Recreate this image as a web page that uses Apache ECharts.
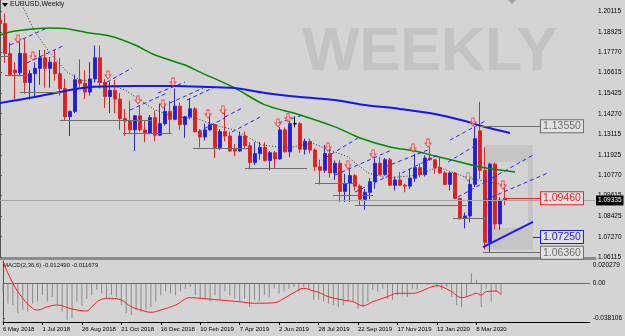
<!DOCTYPE html>
<html>
<head>
<meta charset="utf-8">
<script src="https://cdn.jsdelivr.net/npm/echarts@6/dist/echarts.min.js"></script>
<style>
html, body { margin: 0; padding: 0; background: #d4d4d4; }
#chart { width: 625px; height: 336px; }
</style>
</head>
<body>
<div id="chart"></div>
<script>
// weekly bars, week 0 = 6 May 2018 ; [open, high, low, close]
const candles = [
  [1.1960,1.1996,1.1823,1.1940],[1.1940,1.1997,1.1716,1.1770],[1.1770,1.1833,1.1645,1.1650],[1.1675,1.1720,1.1510,1.1660],
  [1.1660,1.1840,1.1640,1.1770],[1.1770,1.1852,1.1540,1.1605],[1.1605,1.1675,1.1508,1.1655],[1.1655,1.1720,1.1527,1.1685],
  [1.1685,1.1790,1.1591,1.1745],[1.1745,1.1790,1.1575,1.1685],[1.1685,1.1750,1.1575,1.1720],[1.1720,1.1790,1.1615,1.1655],
  [1.1655,1.1745,1.1530,1.1570],[1.1570,1.1625,1.1390,1.1410],[1.1410,1.1445,1.1300,1.1440],[1.1440,1.1650,1.1430,1.1620],
  [1.1620,1.1735,1.1575,1.1600],[1.1600,1.1675,1.1510,1.1550],[1.1550,1.1720,1.1530,1.1625],[1.1625,1.1815,1.1605,1.1745],
  [1.1745,1.1815,1.1570,1.1605],[1.1605,1.1625,1.1460,1.1525],[1.1525,1.1610,1.1430,1.1560],[1.1560,1.1620,1.1430,1.1510],
  [1.1510,1.1545,1.1335,1.1400],[1.1400,1.1455,1.1300,1.1385],[1.1385,1.1500,1.1310,1.1335],[1.1335,1.1420,1.1215,1.1415],
  [1.1415,1.1470,1.1325,1.1335],[1.1335,1.1390,1.1265,1.1315],[1.1315,1.1420,1.1310,1.1405],[1.1405,1.1445,1.1270,1.1305],
  [1.1305,1.1485,1.1300,1.1370],[1.1370,1.1485,1.1360,1.1440],[1.1440,1.1500,1.1310,1.1395],[1.1395,1.1570,1.1390,1.1470],
  [1.1470,1.1490,1.1335,1.1365],[1.1365,1.1415,1.1290,1.1410],[1.1410,1.1515,1.1395,1.1455],[1.1455,1.1465,1.1320,1.1325],
  [1.1325,1.1340,1.1235,1.1295],[1.1295,1.1370,1.1275,1.1335],[1.1335,1.1420,1.1330,1.1365],[1.1365,1.1370,1.1175,1.1235],
  [1.1235,1.1340,1.1220,1.1325],[1.1325,1.1450,1.1270,1.1300],[1.1300,1.1325,1.1210,1.1215],[1.1225,1.1255,1.1185,1.1215],
  [1.1215,1.1325,1.1210,1.1300],[1.1300,1.1325,1.1225,1.1245],[1.1245,1.1265,1.1110,1.1150],[1.1150,1.1265,1.1135,1.1200],
  [1.1200,1.1265,1.1165,1.1235],[1.1235,1.1265,1.1155,1.1160],[1.1160,1.1215,1.1105,1.1205],[1.1205,1.1215,1.1115,1.1170],
  [1.1170,1.1350,1.1165,1.1335],[1.1335,1.1348,1.1205,1.1210],[1.1210,1.1385,1.1180,1.1370],[1.1370,1.1412,1.1350,1.1370],
  [1.1370,1.1380,1.1205,1.1225],[1.1225,1.1285,1.1195,1.1270],[1.1270,1.1285,1.1200,1.1220],[1.1220,1.1230,1.1100,1.1125],
  [1.1125,1.1165,1.1025,1.1105],[1.1105,1.1250,1.1090,1.1200],[1.1200,1.1230,1.1065,1.1090],[1.1090,1.1160,1.1050,1.1145],
  [1.1145,1.1165,1.0925,1.0985],[1.0985,1.1085,1.0925,1.1030],[1.1030,1.1110,1.0925,1.1075],[1.1075,1.1085,1.0990,1.1015],
  [1.1015,1.1025,1.0905,1.0940],[1.0940,1.0998,1.0880,1.0980],[1.0980,1.1060,1.0940,1.1040],[1.1040,1.1172,1.1000,1.1145],
  [1.1145,1.1180,1.1075,1.1080],[1.1080,1.1175,1.1075,1.1165],[1.1165,1.1175,1.1015,1.1020],[1.1020,1.1070,1.0990,1.1050],
  [1.1050,1.1095,1.1015,1.1020],[1.1020,1.1030,1.0980,1.1015],[1.1015,1.1115,1.1000,1.1060],[1.1060,1.1200,1.1040,1.1120],
  [1.1120,1.1145,1.1065,1.1080],[1.1080,1.1190,1.1070,1.1175],[1.1175,1.1240,1.1160,1.1165],[1.1165,1.1170,1.1085,1.1120],
  [1.1120,1.1175,1.1085,1.1090],[1.1090,1.1100,1.1020,1.1025],[1.1025,1.1095,1.0990,1.1090],[1.1090,1.1095,1.0940,1.0945],
  [1.0945,1.0950,1.0825,1.0830],[1.0830,1.0865,1.0775,1.0845],[1.0845,1.1055,1.0810,1.1025],[1.1025,1.1355,1.1010,1.1285],
  [1.1330,1.1495,1.1055,1.1105],[1.1105,1.1236,1.0655,1.0695],[1.0695,1.1147,1.0636,1.1140],[1.1140,1.1148,1.0770,1.0800],
  [1.0800,1.0952,1.0767,1.0935],[1.0946,1.1011,1.0907,1.0934]
];

// moving averages, [week, price]
const greenMA = [[0,1.1875],[3,1.1897],[10,1.1915],[13,1.1912],[18,1.1886],[22,1.1869],[27,1.1818],[31,1.1761],
  [37,1.1704],[40,1.1664],[47,1.1573],[53,1.1477],[60,1.1420],[67,1.1352],[72,1.1289],[78,1.1238],[83,1.1215],
  [87,1.1186],[92,1.1152],[96,1.1124],[103,1.1095]];
const blueMA = [[0,1.1488],[7,1.1522],[12,1.1551],[18,1.1579],[27,1.1585],[35,1.1585],[42,1.1579],[47,1.1573],
  [53,1.1545],[60,1.1522],[67,1.1505],[73,1.1477],[80,1.1454],[87,1.1425],[93,1.1385],[97,1.1351],[102,1.1317]];

// drawn objects: [fromWeek, fromPrice, toWeek, toPrice]
const channels = [
  [2,1.1818,9.4,1.1915],[5.4,1.1716,13,1.1818],[21.4,1.1607,26.4,1.1687],[26,1.1448,33.4,1.1545],
  [31.6,1.1545,37,1.1607],[34,1.1488,40.6,1.1573],[37.4,1.1505,43,1.1579],[39.6,1.1323,45,1.1403],
  [45,1.1408,48.4,1.1459],[46.4,1.1323,52,1.1408],[55.6,1.1374,60.6,1.1420],[65,1.1175,71.6,1.1289],
  [67,1.1078,78.4,1.1221],[71,1.0981,78,1.1078],[77,1.1124,85.6,1.1221],[80.4,1.1090,87.6,1.1192],
  [89.6,1.1152,94.6,1.1238],[90,1.1277,97.4,1.1391],[91.6,1.0953,97,1.1038],[97,1.0936,109.6,1.1090],
  [98.4,1.1061,107,1.1198]
];
const trendLine = [[96.6,1.0668,106.6,1.0811]];
// [fromWeek, toWeek, price]
const supports = [[0,2,1.1755],[1,5.6,1.1647],[4,12,1.1550],[12,30.4,1.1391],[24.6,34.4,1.1317],[38.6,49.6,1.1232],
  [49,61.4,1.1118],[63,71,1.1033],[66.6,74.6,1.0964],[71,93.4,1.0907],[90.6,97.4,1.0833]];
const zigzag = [[4.4,1.2046],[7,1.1892],[10,1.1772],[13.4,1.1664],[16,1.1619],[21,1.1602],[25,1.1562],[31,1.1448],
  [35,1.1408],[39,1.1403],[43,1.1363],[47,1.1334],[52.4,1.1249],[57.6,1.1232],[62.4,1.1260],[64.4,1.1238],
  [69.6,1.1181],[73.6,1.1090],[77.6,1.1061],[83.6,1.1078],[87.6,1.1124],[93.6,1.1061],[101,1.1021]];
const arrows = [[3.6,1.1852],[6.6,1.1755],[21.6,1.1647],[27.6,1.1505],[32.6,1.1482],[34.6,1.1607],[41.6,1.1425],
  [44.6,1.1448],[55.6,1.1374],[57.6,1.1403],[65.6,1.1237],[69.6,1.1135],[74.6,1.1198],[82.6,1.1232],
  [85.6,1.1260],[94.6,1.1380],[100.6,1.1021]];
const greyArrows = [[93.6,1.1067]];
const boxOuter = [97, 1.1249, 106.6, 1.0651];
const boxInner = [99.4, 1.1152, 105.6, 1.0776];

const boxPrices = [1.1355, 1.0946, 1.0725, 1.0636];
const boxStart = [96, 101, 106.6, 96.6];
const boxColors = ['#6e6e6e', '#ff1c1c', '#1a1aff', '#6e6e6e'];
const bidPrice = 1.09335;

// MACD(2,36,6)
const macdMain = [
  -0.010,-0.022,-0.024,-0.033,-0.029,-0.031,-0.022,-0.020,-0.013,-0.020,
  -0.015,-0.024,-0.031,-0.040,-0.038,-0.020,-0.024,-0.017,-0.013,-0.007,
  -0.011,-0.017,-0.013,-0.015,-0.024,-0.033,-0.035,-0.029,-0.031,-0.029,
  -0.026,-0.020,-0.013,-0.009,-0.011,-0.013,-0.009,-0.006,-0.004,-0.013,
  -0.017,-0.017,-0.020,-0.013,-0.018,-0.009,-0.013,-0.017,-0.020,-0.017,
  -0.026,-0.018,-0.020,-0.013,-0.015,-0.006,-0.011,-0.009,-0.006,-0.004,
  -0.009,-0.004,-0.007,-0.018,-0.018,-0.020,-0.022,-0.024,-0.026,-0.024,
  -0.020,-0.020,-0.028,-0.026,-0.020,-0.007,-0.009,-0.006,-0.017,-0.018,
  -0.013,-0.013,-0.015,-0.006,-0.007,-0.001,-0.002,-0.001,-0.004,-0.007,
  -0.004,-0.015,-0.024,-0.026,-0.015,0.011,0.004,-0.026,-0.006,-0.020,
  -0.009,-0.012
];
const macdSignal = [[0,0.0239],[2,0.0001],[4,-0.0164],[6,-0.0274],[7,-0.0293],[9,-0.0257],[11,-0.0238],[14,-0.0282],
  [17,-0.0304],[18,-0.0257],[20,-0.0175],[22,-0.0164],[24,-0.0183],[26,-0.0257],[28,-0.0293],[30,-0.0318],
  [32,-0.0293],[35,-0.0238],[38,-0.0157],[40,-0.0164],[44,-0.0183],[48,-0.0202],[51,-0.0219],[55,-0.0213],
  [57,-0.0164],[59,-0.0102],[61,-0.0054],[63,-0.0084],[64,-0.0098],[66,-0.0146],[69,-0.0183],[71,-0.0202],
  [73,-0.0246],[75,-0.0202],[78,-0.0146],[80,-0.0109],[83,-0.0109],[84,-0.0102],[87,-0.0036],[88,-0.0025],
  [89,-0.0036],[91,-0.0091],[93,-0.0157],[95,-0.0128],[96,-0.0109],[97,-0.0128],[98,-0.0091],[100,-0.0084],
  [101,-0.0125]];

// axis labels
const dateLabels = ['6 May 2018','1 Jul 2018','26 Aug 2018','21 Oct 2018','16 Dec 2018','10 Feb 2019','7 Apr 2019',
  '2 Jun 2019','28 Jul 2019','22 Sep 2019','17 Nov 2019','12 Jan 2020','8 Mar 2020'];
const dateWeeks = [0,8,16,24,32,40,48,56,64,72,80,88,96];
const priceTicks = [1.20115,1.18925,1.17770,1.16615,1.15425,1.14270,1.13115,1.11925,1.10770,1.09615,1.08425,1.07270,1.06115];
const macdTicks = [0.020279, 0, -0.038106];

const FONT = 'Liberation Sans';

// helper: series that only carries line segments
function segSeries(list, style, z) {
  return {
    type: 'line', data: [], xAxisIndex: 0, yAxisIndex: 0, z: z || 4, silent: true,
    markLine: {
      silent: true, symbol: ['none', 'none'], label: { show: false }, lineStyle: style,
      emphasis: { disabled: true },
      data: list.map(s => [{ coord: [s[0], s[1]] }, { coord: [s[2], s[3]] }])
    }
  };
}

const chart = echarts.init(document.getElementById('chart'));

const boxSeries = boxPrices.map((p, i) => ({
  type: 'line', data: [], z: 8, silent: true,
  markLine: {
    silent: true, symbol: ['none', 'none'],
    lineStyle: { color: boxColors[i], width: 1, type: 'solid' },
    label: {
      show: true, position: 'end', distance: 1, formatter: p.toFixed(5),
      color: boxColors[i], fontSize: 10.5, fontFamily: FONT,
      backgroundColor: '#e2e2e2', borderColor: boxColors[i], borderWidth: 1, padding: [1, 2, 0, 2]
    },
    data: [[{ coord: [boxStart[i], p] }, { coord: [108, p] }]]
  }
}));

const option = {
  backgroundColor: '#d4d4d4',
  animation: false,
  textStyle: { fontFamily: FONT },
  grid: [
    { left: 0, right: 30, top: 0, height: 258 },
    { left: 0, right: 30, top: 261, height: 61 }
  ],
  xAxis: [
    {
      gridIndex: 0, type: 'value', min: 0, max: 119,
      axisLine: { show: true, onZero: false, lineStyle: { color: '#8c8c8c', width: 3 } },
      axisTick: { show: false }, axisLabel: { show: false }, splitLine: { show: false }
    },
    {
      gridIndex: 1, type: 'value', min: 0, max: 119,
      axisLine: { show: true, onZero: false, lineStyle: { color: '#000', width: 1 } },
      axisTick: { show: true, customValues: dateWeeks, length: 3, lineStyle: { color: '#000' } },
      axisLabel: {
        customValues: dateWeeks, align: 'left', fontSize: 6, color: '#000', margin: 4,
        formatter: v => { const i = dateWeeks.indexOf(v); return i >= 0 ? dateLabels[i] : ''; }
      },
      splitLine: { show: false }
    }
  ],
  yAxis: [
    {
      gridIndex: 0, type: 'value', position: 'right', min: 1.0606, max: 1.2074,
      axisLine: { show: true, lineStyle: { color: '#555' } },
      axisTick: { show: true, customValues: priceTicks, length: 2, lineStyle: { color: '#555' } },
      axisLabel: { customValues: priceTicks, formatter: v => v.toFixed(5), fontSize: 6.5, color: '#000', margin: 3 },
      splitLine: { show: false }
    },
    {
      gridIndex: 1, type: 'value', position: 'right', min: -0.04251, max: 0.02468,
      axisLine: { show: true, lineStyle: { color: '#555' } },
      axisTick: { show: true, customValues: macdTicks, length: 2, lineStyle: { color: '#555' } },
      axisLabel: {
        customValues: macdTicks, fontSize: 6.5, color: '#000', margin: 3,
        formatter: v => (v === 0 ? '0.00' : v.toFixed(6))
      },
      splitLine: { show: false }
    }
  ],
  graphic: [
    { type: 'polygon', z: 1, shape: { points: [[2, 3], [8, 3], [5, 7]] }, style: { fill: '#000' } },
    { type: 'text', left: 10, top: 1, z: 1, style: { text: 'EURUSD,Weekly', font: '7px "Liberation Sans"', fill: '#111' } },
    { type: 'text', left: 3, top: 262, z: 1, style: { text: 'MACD(2,36,6) -0.012490 -0.011679', font: '6px "Liberation Sans"', fill: '#111' } },
    { type: 'text', left: 302, top: 23, z: 0, style: { text: 'WEEKLY', font: 'bold 61px "Liberation Sans"', fill: '#c3c3c3' } },
    { type: 'polygon', z: 1, shape: { points: [[508, 0], [516, 0], [512, 4]] }, style: { fill: '#a4a4a4' } }
  ],
  series: [
    {
      type: 'line', data: [], z: 1, silent: true,
      markArea: {
        silent: true,
        data: [
          [{ coord: [boxOuter[0], boxOuter[1]], itemStyle: { color: '#c5c5c5' } }, { coord: [boxOuter[2], boxOuter[3]] }],
          [{ coord: [boxInner[0], boxInner[1]], itemStyle: { color: '#d3d3d3' } }, { coord: [boxInner[2], boxInner[3]] }]
        ]
      }
    },
    segSeries(supports.map(s => [s[0], s[2], s[1], s[2]]), { color: '#6e6e6e', width: 1, type: 'solid' }, 2),
    {
      type: 'line', data: [], z: 2, silent: true,
      markLine: {
        silent: true, symbol: ['none', 'none'], label: { show: false },
        lineStyle: { color: '#a4a4a4', width: 1, type: 'solid' },
        data: [[{ coord: [0, bidPrice] }, { coord: [119, bidPrice] }]]
      }
    },
    {
      type: 'candlestick', xAxisIndex: 0, yAxisIndex: 0, z: 3, barWidth: 3,
      data: candles.map((c, k) => [k, c[0], c[3], c[2], c[1]]),
      itemStyle: {
        color: '#1e1ee0', color0: '#e51c1c',
        borderColor: '#2a2ad8', borderColor0: '#e02828', borderColorDoji: '#000', borderWidth: 1
      }
    },
    {
      type: 'line', data: greenMA, z: 4, smooth: 0.3, symbol: 'none', silent: true,
      lineStyle: { color: '#008a00', width: 1.5 }
    },
    {
      type: 'line', data: blueMA, z: 4, smooth: 0.3, symbol: 'none', silent: true,
      lineStyle: { color: '#1414ff', width: 2 }
    },
    segSeries(channels, { color: '#2424ff', width: 1, type: [4, 3] }, 5),
    segSeries(trendLine, { color: '#1a1aff', width: 2, type: 'solid' }, 5),
    {
      type: 'line', data: zigzag, z: 5, symbol: 'none', silent: true,
      lineStyle: { color: '#303030', width: 1, type: [1, 2] }
    },
    {
      type: 'scatter', data: arrows, z: 6, silent: true,
      symbol: 'path://M3,0 L7,0 L7,5 L10,5 L5,10 L0,5 L3,5 Z', symbolSize: [6, 8],
      itemStyle: { color: 'rgba(255,225,225,0.7)', borderColor: '#ff2a2a', borderWidth: 1 }
    },
    {
      type: 'scatter', data: greyArrows, z: 6, silent: true,
      symbol: 'path://M3,0 L7,0 L7,5 L10,5 L5,10 L0,5 L3,5 Z', symbolSize: [6, 8],
      itemStyle: { color: 'rgba(255,255,255,0.6)', borderColor: '#7a7a7a', borderWidth: 1 }
    },
    ...boxSeries,
    {
      type: 'line', data: [], z: 10, silent: true, clip: false,
      markLine: {
        silent: true, symbol: ['none', 'none'], lineStyle: { color: '#a4a4a4', width: 1, type: 'solid' },
        label: {
          show: true, position: 'end', distance: 1, formatter: bidPrice.toFixed(5),
          color: '#fff', fontSize: 6.5, fontFamily: FONT, backgroundColor: '#000', padding: [2, 2, 1, 2]
        },
        data: [[{ coord: [118, bidPrice] }, { coord: [119, bidPrice] }]]
      }
    },
    {
      type: 'bar', xAxisIndex: 1, yAxisIndex: 1, barWidth: 1, silent: true,
      data: macdMain.map((v, k) => [k, v]),
      itemStyle: { color: '#8a8a8a' },
      markLine: {
        silent: true, symbol: ['none', 'none'], label: { show: false },
        lineStyle: { color: '#6a6a6a', width: 1, type: 'solid' },
        data: [{ yAxis: 0 }]
      }
    },
    {
      type: 'line', xAxisIndex: 1, yAxisIndex: 1, data: macdSignal, smooth: 0.4, symbol: 'none', silent: true,
      lineStyle: { color: '#ff1a1a', width: 1 }
    }
  ]
};

chart.setOption(option);
</script>
</body>
</html>
